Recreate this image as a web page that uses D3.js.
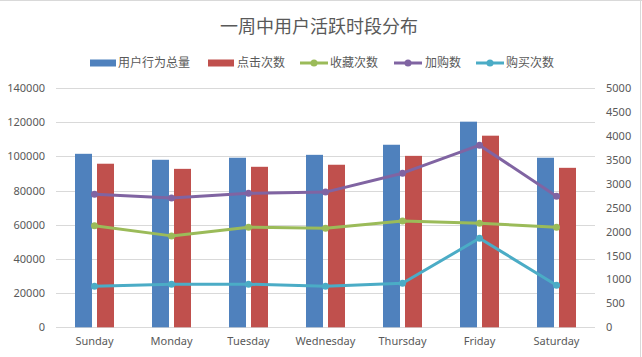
<!DOCTYPE html>
<html><head><meta charset="utf-8">
<script src="https://cdn.jsdelivr.net/npm/d3@7"></script>
<style>body{margin:0;background:#fff}svg{display:block}text{font-family:"Noto Sans","Noto Sans CJK SC",sans-serif;fill:#595959}</style>
</head><body><svg id="c" width="642" height="357"></svg>
<script>
const categories = ["Sunday","Monday","Tuesday","Wednesday","Thursday","Friday","Saturday"];
const totalActions = [101500,98000,99200,100900,106800,120300,99200];
const clicks = [95700,92700,93900,95100,100300,112100,93300];
const favorites = [2120,1910,2090,2070,2220,2175,2090];
const addToCart = [2780,2700,2800,2825,3220,3805,2740];
const purchases = [860,900,900,860,920,1860,880];
const leftTicks = [0,20000,40000,60000,80000,100000,120000,140000];
const rightTicks = [0,500,1000,1500,2000,2500,3000,3500,4000,4500,5000];
const title = "一周中用户活跃时段分布";
const barSeries = [{name:"用户行为总量",values:totalActions,color:"#4F81BD"},{name:"点击次数",values:clicks,color:"#C0504D"}];
const lineSeries = [{name:"收藏次数",values:favorites,color:"#9BBB59"},{name:"加购数",values:addToCart,color:"#8064A2"},{name:"购买次数",values:purchases,color:"#4BACC6"}];

const svg = d3.select("#c");
const L=56,R=595,T=88,B=327.3;
svg.append("line").attr("x1",0).attr("x2",642).attr("y1",0.5).attr("y2",0.5).attr("stroke","#D9D9D9");
svg.append("line").attr("x1",640.5).attr("x2",640.5).attr("y1",0).attr("y2",357).attr("stroke","#D9D9D9");

const x = d3.scaleBand().domain(categories).range([L,R]);
const yL = d3.scaleLinear().domain([0,140000]).range([B,T]);
const yR = d3.scaleLinear().domain([0,5000]).range([B,T]);

// grid
svg.append("g").selectAll("line").data(leftTicks).join("line")
 .attr("x1",L).attr("x2",R).attr("y1",d=>Math.round(yL(d))+0.5).attr("y2",d=>Math.round(yL(d))+0.5)
 .attr("stroke","#D9D9D9").attr("stroke-width",1);

// axes
const gl = svg.append("g").attr("transform",`translate(${L},0)`)
 .call(d3.axisLeft(yL).tickValues(leftTicks).tickFormat(d3.format("d")).tickSize(0).tickPadding(11));
gl.select(".domain").remove();
gl.selectAll("text").style("font-size","11px").attr("fill","#595959");
const gr = svg.append("g").attr("transform",`translate(${R},0)`)
 .call(d3.axisRight(yR).tickValues(rightTicks).tickFormat(d3.format("d")).tickSize(0).tickPadding(11));
gr.select(".domain").remove();
gr.selectAll("text").style("font-size","11px").attr("fill","#595959");
const gx = svg.append("g").attr("transform",`translate(0,${B})`)
 .call(d3.axisBottom(x).tickSize(0).tickPadding(10));
gx.select(".domain").remove();
gx.selectAll("text").style("font-size","11px").attr("fill","#595959");

// bars
const bw=17, offs=[-19.5,2.5];
barSeries.forEach((s,i)=>{
  svg.append("g").selectAll("rect").data(s.values).join("rect")
   .attr("x",(d,j)=>x(categories[j])+x.bandwidth()/2+offs[i]).attr("width",bw)
   .attr("y",d=>yL(d)).attr("height",d=>B-yL(d)).attr("fill",s.color);
});

// lines
const lineGen = d3.line().x((d,j)=>x(categories[j])+x.bandwidth()/2).y(d=>yR(d));
lineSeries.forEach(s=>{
  svg.append("path").datum(s.values).attr("d",lineGen).attr("fill","none").attr("stroke",s.color).attr("stroke-width",3).attr("stroke-linejoin","round").attr("stroke-linecap","round");
  svg.append("g").selectAll("circle").data(s.values).join("circle")
   .attr("cx",(d,j)=>x(categories[j])+x.bandwidth()/2).attr("cy",d=>yR(d)).attr("r",3.5).attr("fill",s.color);
});

// title
svg.append("text").attr("x",319).attr("y",33).attr("text-anchor","middle").style("font-size","18px").text(title);

// legend
const ly=63;
const leg = [
 {x:90,type:"bar",s:barSeries[0],tx:118},
 {x:208,type:"bar",s:barSeries[1],tx:237},
 {x:300,type:"line",s:lineSeries[0],tx:330},
 {x:394,type:"line",s:lineSeries[1],tx:425},
 {x:476,type:"line",s:lineSeries[2],tx:506}];
leg.forEach(l=>{
  if(l.type==="bar") svg.append("rect").attr("x",l.x).attr("y",ly-3.5).attr("width",26).attr("height",7).attr("fill",l.s.color);
  else {
    svg.append("line").attr("x1",l.x).attr("x2",l.x+28).attr("y1",ly).attr("y2",ly).attr("stroke",l.s.color).attr("stroke-width",3);
    svg.append("circle").attr("cx",l.x+14).attr("cy",ly).attr("r",3.5).attr("fill",l.s.color);
  }
  svg.append("text").attr("x",l.tx).attr("y",ly).attr("dy","0.36em").style("font-size","12px").text(l.s.name);
});
</script></body></html>
